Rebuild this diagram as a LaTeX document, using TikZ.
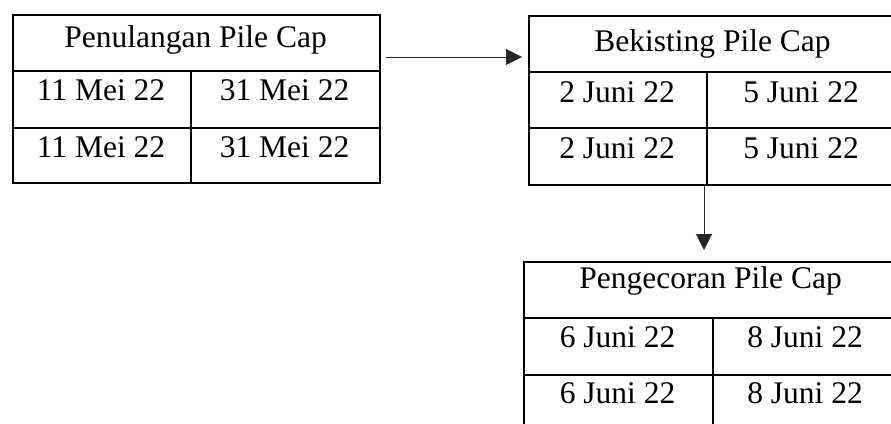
\documentclass[tikz,border=0pt]{standalone}
\usepackage{fontspec}
\setmainfont{Liberation Serif}
\usetikzlibrary{arrows.meta}
\tikzset{
  cellbox/.style={draw, line width=1.8pt, inner sep=0pt, anchor=north west},
  lbl/.style={anchor=base, inner sep=0pt, font=\fontsize{31.5}{38}\selectfont},
  arr/.style={line width=1pt, draw=black!85, -{Triangle[length=16pt,width=16pt]}}
}
\begin{document}
\begin{tikzpicture}[x=1pt,y=-1pt]
\useasboundingbox (0,0) rectangle (891,423);
\clip (0,0) rectangle (891,423);
% box 1
\node[cellbox, minimum width=367pt, minimum height=56pt] (p1t) at (12,14) {};
\node[cellbox, minimum width=178pt, minimum height=57pt] (p1a) at (12,70) {};
\node[cellbox, minimum width=189pt, minimum height=57pt] (p1b) at (190,70) {};
\node[cellbox, minimum width=178pt, minimum height=55pt] (p1c) at (12,127) {};
\node[cellbox, minimum width=189pt, minimum height=55pt] (p1d) at (190,127) {};
\node[lbl] (t1) at (195.5,47) {Penulangan Pile Cap};
\node[lbl] (t1a) at (101,100) {11 Mei 22};
\node[lbl] (t1b) at (284.5,100) {31 Mei 22};
\node[lbl] (t1c) at (101,157) {11 Mei 22};
\node[lbl] (t1d) at (284.5,157) {31 Mei 22};
% box 2
\node[cellbox, minimum width=369pt, minimum height=56pt] (p2t) at (528,15) {};
\node[cellbox, minimum width=178pt, minimum height=56pt] (p2a) at (528,71) {};
\node[cellbox, minimum width=191pt, minimum height=56pt] (p2b) at (706,71) {};
\node[cellbox, minimum width=178pt, minimum height=57pt] (p2c) at (528,127) {};
\node[cellbox, minimum width=191pt, minimum height=57pt] (p2d) at (706,127) {};
\node[lbl] (t2) at (712.5,51) {Bekisting Pile Cap};
\node[lbl] (t2a) at (617,102) {2 Juni 22};
\node[lbl] (t2b) at (801,102) {5 Juni 22};
\node[lbl] (t2c) at (617,158) {2 Juni 22};
\node[lbl] (t2d) at (801,158) {5 Juni 22};
% box 3
\node[cellbox, minimum width=375pt, minimum height=56pt] (p3t) at (523,261) {};
\node[cellbox, minimum width=189pt, minimum height=57pt] (p3a) at (523,317) {};
\node[cellbox, minimum width=186pt, minimum height=57pt] (p3b) at (712,317) {};
\node[cellbox, minimum width=189pt, minimum height=57pt] (p3c) at (523,374) {};
\node[cellbox, minimum width=186pt, minimum height=57pt] (p3d) at (712,374) {};
\node[lbl] (t3) at (710.5,288) {Pengecoran Pile Cap};
\node[lbl] (t3a) at (617.5,347) {6 Juni 22};
\node[lbl] (t3b) at (805,347) {8 Juni 22};
\node[lbl] (t3c) at (617.5,403) {6 Juni 22};
\node[lbl] (t3d) at (805,403) {8 Juni 22};
% connectors
\coordinate (a1s) at (386,57);
\coordinate (a1e) at (522,57);
\coordinate (a2s) at (704,184);
\coordinate (a2e) at (704,250);
\draw[arr] (a1s) -- (a1e);
\draw[arr] (a2s) -- (a2e);
\end{tikzpicture}
\end{document}
